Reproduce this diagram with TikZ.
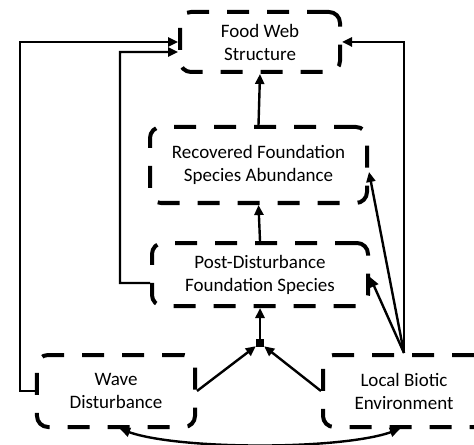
\documentclass[tikz,border=0pt]{standalone}
\usepackage{fontspec}
\setmainfont{Carlito}
\usetikzlibrary{arrows.meta}
\tikzset{
  box/.style={draw, line width=4bp, dash pattern=on 22bp off 18bp, rounded corners=11bp,
    align=center, inner sep=0pt, font=\fontsize{19bp}{23bp}\selectfont},
  link/.style={line width=2.4bp, -{Triangle[length=10bp,width=9bp]}},
  biarrow/.style={line width=2.4bp, {Triangle[length=10bp,width=9bp]}-{Triangle[length=10bp,width=9bp]}},
  hub/.style={fill, inner sep=0pt, minimum size=8bp}
}
\begin{document}
\begin{tikzpicture}[x=1bp,y=-1bp]
\useasboundingbox (0,0) rectangle (474,445);
\clip (0,0) rectangle (474,445);
% boxes
\node[box, minimum width=160bp, minimum height=60bp] (food) at (260,42) {Food Web\\Structure};
\node[box, minimum width=217bp, minimum height=76bp] (rec) at (258.5,165) {Recovered Foundation\\Species Abundance};
\node[box, minimum width=216bp, minimum height=63bp] (post) at (260,274.5) {Post-Disturbance\\Foundation Species};
\node[box, minimum width=158bp, minimum height=72bp] (wave) at (116,391) {Wave\\Disturbance};
\node[box, minimum width=162bp, minimum height=72bp] (local) at (404,391) {Local Biotic\\Environment};
\node[hub] (hub) at (260,343) {};
% interaction into the hub
\draw[link] (wave.east) -- (hub);
\draw[link] (local.west) -- (hub);
\draw[link] (hub) -- (post.south);
% vertical chain
\draw[link] (post.north) -- (rec.south);
\draw[link] (rec.north) -- (food.south);
% local environment effects
\coordinate (lt) at (local.north);
\draw[link] (lt) -- ([yshift=-2.5bp]post.east);
\draw[link] (lt) -- ([yshift=-7bp]rec.east);
\draw[link] (lt) |- (food.east);
% outer feedback paths
\coordinate (wl) at (20,391);
\draw[link] (wave.west) -- (wl) |- (food.west);
\coordinate (pl) at (120,283);
\draw[link] ([yshift=-8.5bp]post.west) -- (pl) |- ([yshift=-10bp]food.west);
% coupling between disturbance and biotic environment
\draw[biarrow] ([xshift=4bp]wave.south) .. controls (180,450) and (340,450) .. ([xshift=-4bp]local.south);
\end{tikzpicture}
\end{document}
